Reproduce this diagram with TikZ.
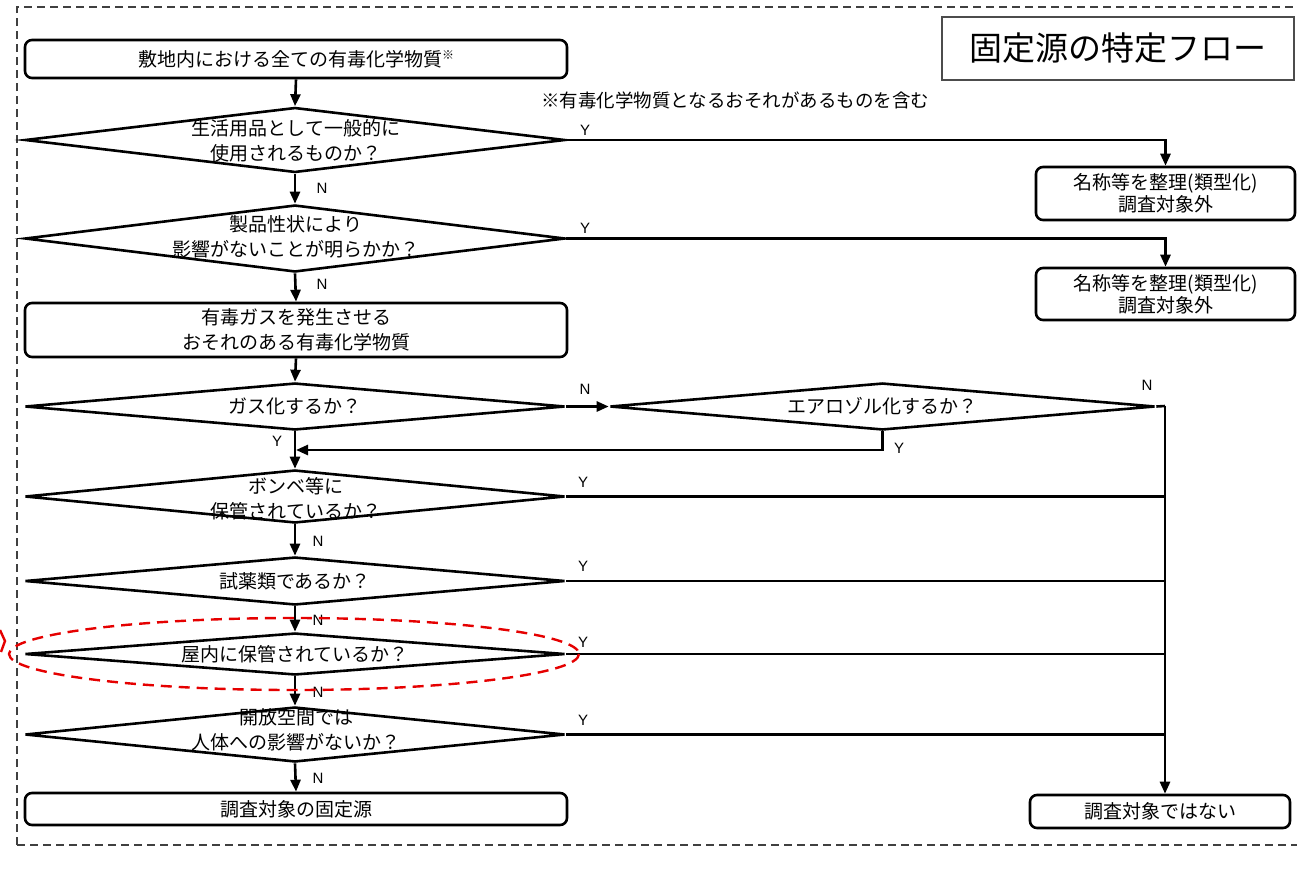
\documentclass[tikz,border=0pt]{standalone}
\usepackage{fontspec}
\usetikzlibrary{shapes.geometric,arrows.meta}
\newfontfamily\jp{Noto Sans CJK JP}
\newfontfamily\lat{Liberation Sans}
\tikzset{
  lw/.style={line width=2.6pt},
  boxn/.style={draw, lw, rounded corners=7pt, inner sep=0pt, minimum width=542pt},
  dia/.style={draw, lw, diamond, inner sep=0pt, minimum width=540pt},
  txt/.style={font=\jp\fontsize{19}{25}\selectfont, align=center, inner sep=0pt},
  yn/.style={font=\lat\fontsize{15}{15}\selectfont, inner sep=0pt},
  arr/.style={lw, -{Triangle[length=12pt,width=10pt]}},
  ln/.style={lw},
}
\begin{document}
\begin{tikzpicture}[x=1pt,y=-1pt]
\useasboundingbox (0,0) rectangle (1297,873);
\clip (0,0) rectangle (1297,873);
% outer dashed frame
\draw[black!75, line width=1.3pt, dash pattern=on 8pt off 5pt] (17,845) -- (17,7) -- (1320,7);
\draw[black!75, line width=1.3pt, dash pattern=on 8pt off 5pt] (17,845) -- (1320,845);
% title
\node[draw=black!70, line width=2pt, minimum width=352pt, minimum height=63pt, inner sep=0pt,
      font=\jp\fontsize{33}{33}\selectfont] (title) at (1118,48.5) {固定源の特定フロー};
% boxes
\node[boxn, minimum height=38pt] (b1) at (296,59) {};
\node[txt] (b1t) at (b1) {敷地内における全ての有毒化学物質\raisebox{7pt}{\fontsize{12}{12}\selectfont ※}};
\node[txt, font=\jp\fontsize{18.5}{24}\selectfont] (note) at (735,100) {※有毒化学物質となるおそれがあるものを含む};
\node[dia, minimum height=65pt] (d1) at (295,140) {};
\node[txt] (d1t) at (296,140.5) {生活用品として一般的に\\使用されるものか？};
\node[boxn, minimum width=259pt, minimum height=53pt] (b2) at (1165.5,193.5) {};
\node[txt, font=\jp\fontsize{19}{22}\selectfont] (b2t) at (b2) {名称等を整理(類型化)\\調査対象外};
\node[dia, minimum height=67pt] (d2) at (295,238.5) {};
\node[txt] (d2t) at (296,237) {製品性状により\\影響がないことが明らかか？};
\node[boxn, minimum width=259pt, minimum height=52pt] (b3) at (1165.5,294) {};
\node[txt, font=\jp\fontsize{19}{22}\selectfont] (b3t) at (b3) {名称等を整理(類型化)\\調査対象外};
\node[boxn, minimum height=54pt] (b4) at (296,330) {};
\node[txt] (b4t) at (b4) {有毒ガスを発生させる\\おそれのある有毒化学物質};
\node[dia, minimum height=47pt] (d3) at (295,406.5) {};
\node[txt] (d3t) at (d3) {ガス化するか？};
\node[dia, minimum width=545pt, minimum height=47pt] (d4) at (882.5,406.5) {};
\node[txt] (d4t) at (d4) {エアロゾル化するか？};
\node[dia, minimum height=53pt] (d5) at (295,496.5) {};
\node[txt] (d5t) at (296,498.5) {ボンベ等に\\保管されているか？};
\node[dia, minimum height=48pt] (d6) at (295,581) {};
\node[txt] (d6t) at (d6) {試薬類であるか？};
\node[dia, minimum height=42pt] (d7) at (295,654) {};
\node[txt] (d7t) at (d7) {屋内に保管されているか？};
\node[dia, minimum height=55pt] (d8) at (295,734.5) {};
\node[txt] (d8t) at (296,730) {開放空間では\\人体への影響がないか？};
\node[boxn, minimum height=32pt] (b5) at (296,809) {};
\node[txt] (b5t) at (b5) {調査対象の固定源};
\node[boxn, minimum width=260pt, minimum height=33pt] (b6) at (1160,811.5) {};
\node[txt] (b6t) at (b6) {調査対象ではない};
% coordinates
\coordinate (m) at (296,450);
\coordinate (c1) at (1165,406);
% connectors
\draw[arr] (b1.south) -- (d1.north);
\draw[arr] (d1.east) -| (b2.north);
\draw[arr] (d1.south) -- (d2.north);
\draw[arr] (d2.east) -| (b3.north);
\draw[arr] (d2.south) -- (b4.north);
\draw[arr] (b4.south) -- (d3.north);
\draw[arr] (d3.east) -- (d4.west);
\draw[arr] (d4.south) |- (m);
\draw[arr] (d3.south) -- (d5.north);
\draw[ln] (d4.east) -- (c1);
\draw[arr] (c1) -- (c1 |- b6.north);
\draw[ln] (d5.east) -- (d5.east -| c1);
\draw[ln] (d6.east) -- (d6.east -| c1);
\draw[ln] (d7.east) -- (d7.east -| c1);
\draw[ln] (d8.east) -- (d8.east -| c1);
\draw[arr] (d5.south) -- (d6.north);
\draw[arr] (d6.south) -- (d7.north);
\draw[arr] (d7.south) -- (d8.north);
\draw[arr] (d8.south) -- (b5.north);
% labels
\node[yn] (l1) at (585,130) {Y};
\node[yn] (l2) at (322,188) {N};
\node[yn] (l3) at (585,228) {Y};
\node[yn] (l4) at (322,284) {N};
\node[yn] (l5) at (585,389) {N};
\node[yn] (l6) at (1147,385) {N};
\node[yn] (l7) at (899,448) {Y};
\node[yn] (l8) at (277,441) {Y};
\node[yn] (l9) at (583,482) {Y};
\node[yn] (l10) at (318,541) {N};
\node[yn] (l11) at (583,566) {Y};
\node[yn] (l12) at (318,620) {N};
\node[yn] (l13) at (583,642) {Y};
\node[yn] (l14) at (318,692) {N};
\node[yn] (l15) at (583,720) {Y};
\node[yn] (l16) at (318,778) {N};
% red highlight
\draw[red!90!black, line width=2.4pt, dash pattern=on 11pt off 7pt] (294,654) ellipse [x radius=285, y radius=36];
\draw[red!90!black, line width=2.4pt] (0,630) -- (5,641) -- (1,652);
\end{tikzpicture}
\end{document}
